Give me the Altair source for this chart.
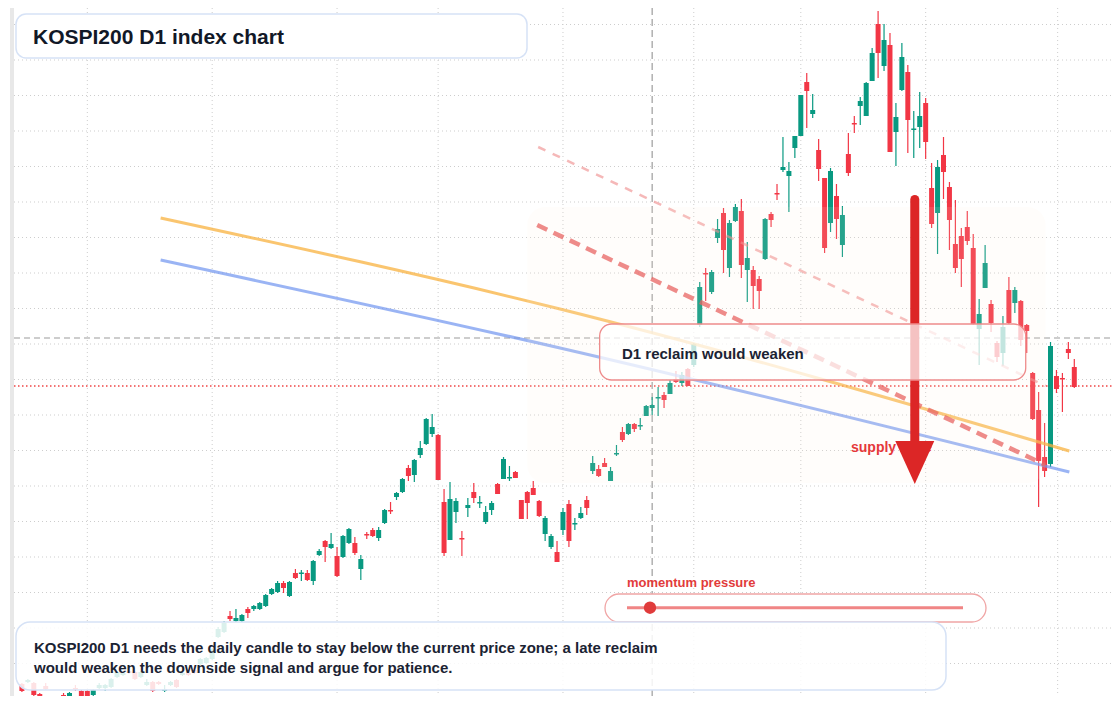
import altair as alt
import pandas as pd

# ---- candle data (index = trading day, price units are arbitrary index points) ----
opens = [158, 159, 158.5, 153, 157, 150.5, 150.5, 152.5, 149.5, 156,
         154.5, 154.5, 152.5, 156, 156, 156.5, 161.5, 162.5, 164.5, 164,
         161.5, 157.5, 159, 159, 154.5, 157.5, 160, 162.5, 163.5, 165,
         168, 168.5, 170.5, 181.5, 184, 192, 189.5, 189.5, 195.5, 195.5,
         195.5, 197, 203, 204, 208.5, 202, 213.5, 213, 213.5, 209.5,
         222.5, 229.5, 226, 222, 221.5, 228.5, 228.5, 215.5, 233, 235,
         231, 238.5, 245, 251.5, 254, 266, 262.5, 272.5, 278, 283,
         282.5, 249, 230, 244, 231, 246, 254, 248.25, 239, 245,
         258, 260.5, 260.75, 264, 250, 254, 256, 249.5, 233, 226.5,
         224, 235, 248, 237.75, 241, 250, 264.5, 265.5, 268.5, 259.5,
         272.75, 284, 283, 288, 286.75, 292, 296, 300.75, 302.5, 303,
         310.5, 308.5, 315.5, 317.5, 337.5, 363.5, 354, 381, 393.5, 366,
         389.5, 394.5, 365, 365, 360.5, 370.5, 393, 403.5, 415, 412,
         426, 432, 459, 443, 425, 411, 388.5, 402, 377.5, 423,
         438.5, 447, 442, 459.5, 488, 467, 477.5, 434, 455, 464,
         435, 436.5, 448.5, 406, 393.5, 422.5, 406.5, 378, 382, 386.5,
         376, 335.5, 356, 348, 328.5, 323.5, 355, 348.5, 349.5, 337.5,
         313.5, 295, 271.5, 268, 312, 311, 325.5, 316.5]
highs = [158.5, 160.5, 159, 153.5, 158.5, 151, 151.5, 153.5, 154, 157.5,
         155, 155, 155.5, 158.5, 158, 161, 164.5, 164, 165, 164.5,
         164.5, 160.5, 159.5, 159.5, 157.5, 159.5, 160.5, 164.5, 164, 165.5,
         171, 171.5, 176, 186.5, 189.5, 194.5, 195.5, 193, 196.5, 197.5,
         199, 203, 206, 209.5, 209.5, 209.5, 215.5, 215, 215, 220,
         225.5, 230, 233.5, 226.5, 232.5, 236, 231.5, 222.5, 234, 236,
         236.5, 245.5, 249, 254, 261, 267.5, 270.5, 279.5, 291, 293,
         283, 255.5, 259, 251, 234.5, 251, 258.5, 252, 247, 249.5,
         258.5, 271.5, 267, 264.5, 250, 254.5, 259.5, 250, 242, 233,
         229.5, 246, 250, 241, 246.5, 252, 272, 267.5, 271, 266.5,
         277.5, 286.5, 288.5, 288.5, 291, 297.5, 301.5, 306.5, 304, 310,
         314.5, 314, 316, 328.5, 359, 366, 365, 390.5, 396, 390,
         398, 400.5, 379, 367, 362, 391, 394, 408, 431.5, 419,
         432, 452.5, 463.5, 453, 430.5, 411, 416, 408, 397, 433.5,
         442, 451.5, 459, 476, 494.5, 488, 483.5, 448.5, 478.5, 467.5,
         444.5, 454, 451, 418.5, 420, 431.5, 409, 400, 386, 394.5,
         383, 350.5, 377.5, 350, 329.5, 342, 361.5, 356.5, 350, 338,
         314, 304, 288.5, 329, 315, 313.5, 329, 320.5]
lows = [154, 158.5, 152, 148.5, 155, 147, 147, 147, 148.5, 154.5,
        151, 150, 152, 155.5, 154.5, 156, 161, 162, 163, 160,
        161, 157, 154, 157.5, 154, 157, 156, 162, 162, 163,
        167.5, 168, 170, 181, 183.5, 189.5, 189, 189, 191, 194.5,
        195, 196.5, 202.5, 203.5, 203.5, 201.5, 210.5, 209.5, 209.5, 207.5,
        222, 219, 225.5, 211.5, 221, 228, 222.5, 210, 230.5, 231.5,
        229.5, 238, 243, 250, 253.5, 259.5, 259, 271, 277.5, 281.5,
        260, 222, 230, 238.5, 222, 241.5, 248.5, 246, 238, 242.5,
        253, 260.5, 259.5, 261, 240.5, 240.5, 252.5, 241.5, 229.5, 225.5,
        219, 232.5, 226.5, 235, 240.5, 242.5, 263, 261.5, 266.5, 259.5,
        272, 279, 282.5, 284, 285, 292, 292.5, 292, 296, 303,
        308.5, 307, 307, 316.5, 336.5, 349.5, 353, 378.5, 363.5, 361.5,
        389, 361, 349, 345.5, 345.5, 370, 386.5, 400, 414, 394,
        421, 432, 436, 441, 409.5, 373.5, 384, 380.5, 371.5, 412,
        433.5, 437.5, 442, 459.5, 461, 464.5, 424, 417, 454.5, 423.5,
        421, 426, 420.5, 386, 373, 400.5, 375, 363.5, 356.5, 377.5,
        337.5, 317.5, 356, 334, 319, 317, 338, 343.5, 327, 323.5,
        290, 246.5, 261.5, 266.5, 303.5, 294, 320.5, 306]
closes = [154.5, 160, 152.5, 150.5, 155.5, 148, 148, 148, 153.5, 155.25,
          151.5, 151, 155, 157.5, 157.5, 160.5, 164, 163.5, 163.5, 160.5,
          164, 159, 154.5, 158, 155.5, 159, 156.5, 163.5, 162.5, 163.5,
          170.5, 171, 175.5, 185.5, 188.5, 190.5, 191, 192.5, 193.5, 197,
          198.5, 202.5, 205.5, 208.5, 206, 209, 211, 213.75, 210, 219.5,
          224.5, 226.5, 228, 212, 232, 235.5, 223.5, 220.5, 232.25, 232,
          235, 245, 244.25, 253.5, 260.5, 262, 270, 276, 290.5, 286.5,
          260, 223.5, 250.5, 249.5, 230.25, 247.5, 251, 249, 244, 248.5,
          253, 270.5, 261.5, 261, 240.5, 248.5, 252.5, 242, 241, 232,
          219, 244, 229.5, 238.5, 243.5, 246, 268.5, 262, 266.5, 264.5,
          273.5, 280, 288, 285.5, 287.5, 297, 297.5, 301.5, 300, 308.5,
          309, 312.5, 307, 328, 356.5, 362.75, 364, 385.5, 375, 388.5,
          396.5, 367.5, 371, 357, 354.5, 390.5, 390, 402.75, 416.5, 414.5,
          432, 452.5, 454.5, 445, 415.5, 376, 414.5, 390.5, 392.5, 413.5,
          437.75, 449.5, 458.5, 473.5, 473.5, 480, 424, 441.5, 471.5, 440,
          435.75, 442, 429, 388, 416.5, 414, 390, 366, 370.5, 379.5,
          338, 343, 368.5, 338.5, 321.5, 336.5, 338.5, 355, 330, 334.5,
          290.5, 269.5, 264.5, 327, 305.5, 310.25, 323.5, 306.5]

month_starts = [11, 32, 53, 70, 91, 113, 131, 152, 174.2]
grid_levels = [487.75, 470.0, 452.25, 434.5, 416.75, 399.0, 381.25, 363.5,
               345.75, 328.0, 310.25, 292.5, 274.75, 257.0, 239.25, 221.5,
               203.75, 186.0, 168.25, 150.5]

current_level = 331.0      # gray dashed price line
trigger_level = 307.0      # red dotted line
marker_day = 106           # vertical dashed marker

ma_slow_i = [23.33, 90.5, 176.17]
ma_slow_p = [391, 345.5, 274.5]
ma_fast_i = [23.33, 90.5, 176.17]
ma_fast_p = [370, 326, 264]
chan_low_i = [86.67, 172.17]
chan_low_p = [387.5, 267.5]
chan_high_i = [86.83, 172.17]
chan_high_p = [426.5, 307]

zone_i = [85, 172.17]
zone_p = [396.5, 258.5]
reclaim_i = [97.17, 168.83]
reclaim_p = [338, 310]
arrow_i = 150.17
arrow_top_p = 400.25
arrow_base_p = 279
arrow_head_p = 268.75

FONT = "Liberation Sans"
W, H = 1104, 688

df = pd.DataFrame({"i": list(range(len(opens))), "open": opens, "high": highs,
                   "low": lows, "close": closes})
df["dir"] = ["up" if c >= o else "down" for o, c in zip(opens, closes)]

xs = alt.Scale(domain=[-1.5, 182.5], nice=False, zero=False)
ys = alt.Scale(domain=[152, 496], nice=False, zero=False)
col = alt.Color("dir:N", scale=alt.Scale(domain=["up", "down"],
                                          range=["#089981", "#f23645"]), legend=None)
dummy = pd.DataFrame({"k": [0]})


def X(field):
    return alt.X(field, scale=xs, axis=None)


def Y(field):
    return alt.Y(field, scale=ys, axis=None)


grid_x = alt.Chart(pd.DataFrame({"i": month_starts})).mark_rule(
    color="#cdcdcd", strokeWidth=1, strokeDash=[1, 3]).encode(x=X("i:Q"))
grid_y = alt.Chart(pd.DataFrame({"p": grid_levels})).mark_rule(
    color="#cdcdcd", strokeWidth=1, strokeDash=[1, 3]).encode(
    y=Y("p:Q"), x=alt.value(6), x2=alt.value(W))

wicks = alt.Chart(df).mark_rule(strokeWidth=1.2, clip=True).encode(
    x=X("i:Q"), y=Y("low:Q"), y2="high:Q", color=col)
bodies = alt.Chart(df).mark_bar(size=5, clip=True).encode(
    x=X("i:Q"), y=Y("open:Q"), y2="close:Q", color=col)

strip = alt.Chart(dummy).mark_rule(color="#e8e8e8", strokeWidth=4).encode(
    x=alt.value(4), y=alt.value(0), y2=alt.value(H))

hline_cur = alt.Chart(pd.DataFrame({"p": [current_level]})).mark_rule(
    color="#9c9c9c", strokeWidth=1.2, strokeDash=[6, 4]).encode(
    y=Y("p:Q"), x=alt.value(6), x2=alt.value(W))
hline_trig = alt.Chart(pd.DataFrame({"p": [trigger_level]})).mark_rule(
    color="#ef4444", strokeWidth=1.3, strokeDash=[1.5, 2.5]).encode(
    y=Y("p:Q"), x=alt.value(6), x2=alt.value(W))
vline = alt.Chart(pd.DataFrame({"i": [marker_day]})).mark_rule(
    color="#9c9c9c", strokeWidth=1.2, strokeDash=[7, 4]).encode(x=X("i:Q"))


def line_layer(ii, pp, **style):
    d = pd.DataFrame({"i": ii, "p": pp})
    return alt.Chart(d).mark_line(clip=True, **style).encode(x=X("i:Q"), y=Y("p:Q"))


ma_slow = line_layer(ma_slow_i, ma_slow_p, color="#f8b13f", opacity=0.75,
                     strokeWidth=3, interpolate="monotone")
ma_fast = line_layer(ma_fast_i, ma_fast_p, color="#6f94f0", opacity=0.7,
                     strokeWidth=3, interpolate="monotone")
chan_low = line_layer(chan_low_i, chan_low_p, color="#e55353", opacity=0.75,
                      strokeWidth=4.5, strokeDash=[11, 7])
chan_high = line_layer(chan_high_i, chan_high_p, color="#ee8888", opacity=0.6,
                       strokeWidth=2.5, strokeDash=[8, 8])


def box_layer(ii, pp, **style):
    d = pd.DataFrame({"i": [ii[0]], "i2": [ii[1]], "p": [pp[0]], "p2": [pp[1]]})
    return alt.Chart(d).mark_rect(**style).encode(
        x=X("i:Q"), x2="i2:Q", y=Y("p:Q"), y2="p2:Q")


zone = box_layer(zone_i, zone_p, fill="#fcefe2", opacity=0.12, cornerRadius=18)
reclaim_box = box_layer(reclaim_i, reclaim_p, fill="white", fillOpacity=0.72,
                        stroke="#ee8c8c", strokeWidth=1.3, cornerRadius=12)

supply_text = alt.Chart(dummy).mark_text(
    text="supply zone", font=FONT, fontSize=14, fontWeight="bold", color="#e5383b",
    align="left", baseline="alphabetic").encode(x=alt.value(843), y=alt.value(444))

arrow_df = pd.DataFrame({"i": [arrow_i], "p": [arrow_top_p], "p2": [arrow_base_p],
                         "ph": [arrow_head_p]})
arrow_shaft = alt.Chart(arrow_df).mark_rule(
    color="#dc2626", strokeWidth=9, strokeCap="round").encode(
    x=X("i:Q"), y=Y("p:Q"), y2="p2:Q")
arrow_head = alt.Chart(arrow_df).mark_point(
    shape="M -1 -1.1 L 1 -1.1 L 0 1.1 Z", filled=True, size=1521, opacity=1,
    color="#dc2626", strokeWidth=0).encode(x=X("i:Q"), y=Y("ph:Q"))

reclaim_text = alt.Chart(dummy).mark_text(
    text="D1 reclaim would weaken", font=FONT, fontSize=15, fontWeight="bold",
    color="#1b2333", align="left", baseline="alphabetic").encode(
    x=alt.value(614), y=alt.value(351))

mom_text = alt.Chart(dummy).mark_text(
    text="momentum pressure", font=FONT, fontSize=13, fontWeight="bold",
    color="#e23b3b", align="left", baseline="alphabetic").encode(
    x=alt.value(619), y=alt.value(579))
mom_pill = alt.Chart(dummy).mark_rect(
    fill="white", stroke="#f0a5a5", strokeWidth=1.3, cornerRadius=14).encode(
    x=alt.value(597), x2=alt.value(978), y=alt.value(586), y2=alt.value(614))
mom_track = alt.Chart(dummy).mark_rule(color="#f08585", strokeWidth=3).encode(
    x=alt.value(619), x2=alt.value(955), y=alt.value(599.7))
mom_dot = alt.Chart(dummy).mark_point(
    filled=True, size=154, color="#e03b3b", opacity=1, shape="circle").encode(
    x=alt.value(642), y=alt.value(599.7))

note_box = alt.Chart(dummy).mark_rect(
    fill="white", fillOpacity=0.85, stroke="#d6e2f6", strokeWidth=1.5,
    cornerRadius=14).encode(
    x=alt.value(8), x2=alt.value(938), y=alt.value(614), y2=alt.value(682))
note1 = alt.Chart(dummy).mark_text(
    text="KOSPI200 D1 needs the daily candle to stay below the current price zone; a late reclaim",
    font=FONT, fontSize=15, fontWeight="bold", color="#1b2333", align="left",
    baseline="alphabetic").encode(x=alt.value(26), y=alt.value(645.3))
note2 = alt.Chart(dummy).mark_text(
    text="would weaken the downside signal and argue for patience.",
    font=FONT, fontSize=15, fontWeight="bold", color="#1b2333", align="left",
    baseline="alphabetic").encode(x=alt.value(26), y=alt.value(665.3))

title_box = alt.Chart(dummy).mark_rect(
    fill="white", stroke="#d6e2f6", strokeWidth=1.5, cornerRadius=10).encode(
    x=alt.value(8), x2=alt.value(519), y=alt.value(6), y2=alt.value(50))
title_text = alt.Chart(dummy).mark_text(
    text="KOSPI200 D1 index chart", font=FONT, fontSize=21, fontWeight="bold",
    color="#111827", align="left", baseline="alphabetic").encode(
    x=alt.value(25), y=alt.value(35.5))

chart = alt.layer(
    grid_x, grid_y, strip, hline_cur, hline_trig, vline, wicks, bodies,
    ma_slow, ma_fast, chan_low, chan_high, zone,
    supply_text, arrow_shaft, arrow_head,
    reclaim_box, reclaim_text,
    mom_text, mom_pill, mom_track, mom_dot,
    note_box, note1, note2, title_box, title_text,
).properties(
    width=W, height=H, autosize="none", padding=0, background="white"
).configure_view(strokeWidth=0)

chart.save("out.html", embed_options={"renderer": "svg", "actions": False})
